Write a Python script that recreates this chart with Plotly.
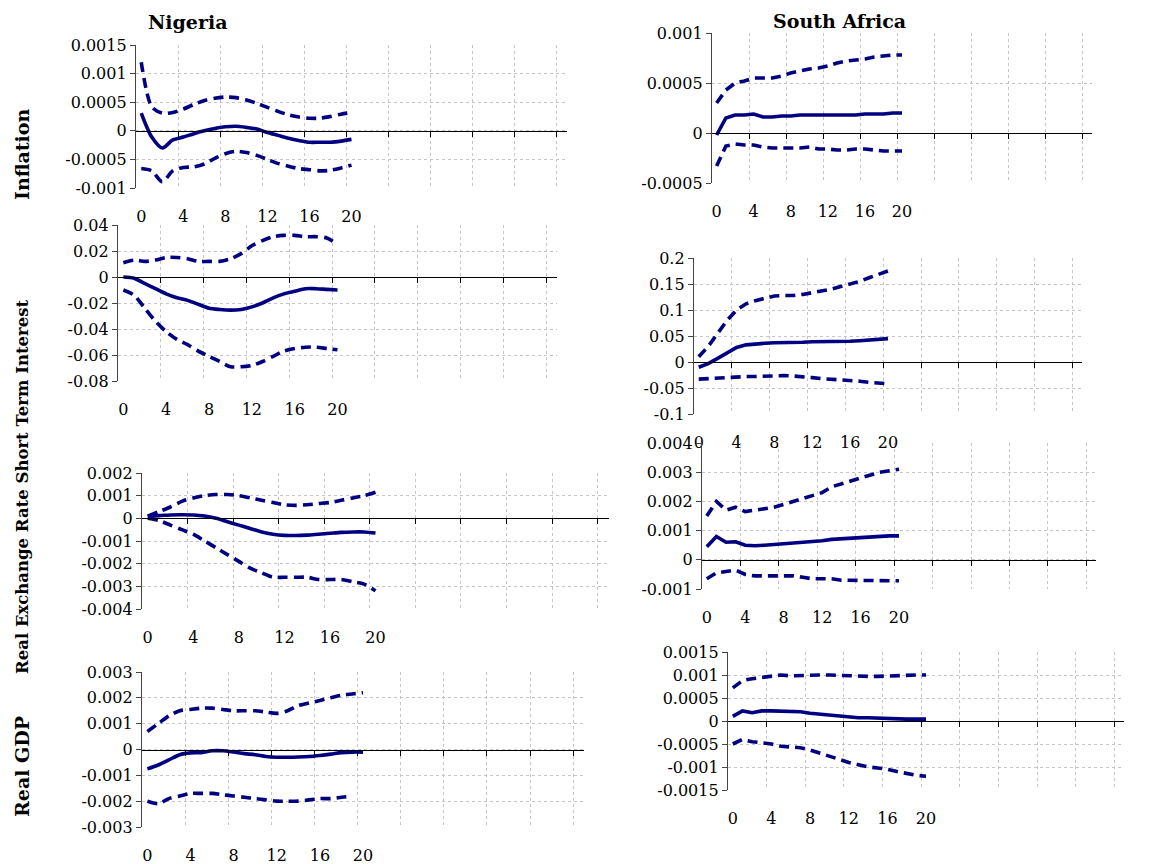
import plotly.graph_objects as go

# ---------------- data ----------------
periods = list(range(21))
x_tick_positions = [0, 4, 8, 12, 16, 20]
x_tick_labels = ["0", "4", "8", "12", "16", "20"]

# Nigeria - Inflation
ng_inf_mid = [0.00031, -0.00011, -0.0003, -0.00016, -0.00011, -0.00005, 0.0, 0.00004, 0.00007, 0.00008,
              0.00006, 0.00003, -0.00003, -0.00008, -0.00013, -0.00017, -0.0002, -0.0002, -0.0002, -0.00018, -0.00015]
ng_inf_up = [0.0012, 0.00042, 0.00031, 0.00032, 0.00038, 0.00046, 0.00053, 0.00057, 0.00059, 0.00058,
             0.00054, 0.00048, 0.00041, 0.00034, 0.00028, 0.00024, 0.00022, 0.00022, 0.00025, 0.00029, 0.00032]
ng_inf_lo = [-0.00066, -0.0007, -0.00089, -0.0007, -0.00064, -0.00063, -0.00058, -0.00048, -0.0004, -0.00036,
             -0.00038, -0.00043, -0.0005, -0.00057, -0.00062, -0.00066, -0.00068, -0.0007, -0.00069, -0.00065, -0.0006]
ng_inf_ticks = [-0.001, -0.0005, 0, 0.0005, 0.001, 0.0015]

# Nigeria - Short Term Interest
ng_int_mid = [0.0, -0.001, -0.005, -0.009, -0.013, -0.016, -0.018, -0.021, -0.024, -0.025,
              -0.0255, -0.025, -0.023, -0.020, -0.016, -0.013, -0.011, -0.009, -0.009, -0.0095, -0.010]
ng_int_up = [0.011, 0.013, 0.012, 0.013, 0.015, 0.015, 0.014, 0.012, 0.012, 0.012,
             0.014, 0.018, 0.024, 0.028, 0.031, 0.032, 0.032, 0.031, 0.031, 0.030, 0.025]
ng_int_lo = [-0.010, -0.014, -0.024, -0.034, -0.042, -0.048, -0.052, -0.057, -0.061, -0.065,
             -0.069, -0.069, -0.068, -0.065, -0.061, -0.057, -0.055, -0.054, -0.054, -0.055, -0.056]
ng_int_ticks = [-0.08, -0.06, -0.04, -0.02, 0, 0.02, 0.04]

# Nigeria - Real Exchange Rate
ng_exr_mid = [0.0001, 0.00012, 0.00015, 0.00016, 0.00015, 0.0001, 0.0, -0.00015, -0.0003, -0.00045,
              -0.0006, -0.0007, -0.00075, -0.00076, -0.00074, -0.0007, -0.00066, -0.00062, -0.0006, -0.0006, -0.00065]
ng_exr_up = [0.0001, 0.0003, 0.0005, 0.00075, 0.0009, 0.001, 0.00105, 0.00105, 0.001, 0.0009,
             0.0008, 0.0007, 0.0006, 0.00057, 0.0006, 0.00065, 0.0007, 0.0008, 0.0009, 0.001, 0.00115]
ng_exr_lo = [0.0, -0.0001, -0.0003, -0.0005, -0.0007, -0.001, -0.0013, -0.0016, -0.0019, -0.0022,
             -0.0024, -0.0026, -0.0026, -0.0026, -0.0026, -0.0027, -0.0027, -0.0027, -0.0028, -0.0029, -0.0032]
ng_exr_ticks = [-0.004, -0.003, -0.002, -0.001, 0, 0.001, 0.002]

# Nigeria - Real GDP
ng_gdp_mid = [-0.00075, -0.0006, -0.0004, -0.0002, -0.00013, -0.00012, -0.00005, -0.00005, -0.0001, -0.00016,
              -0.0002, -0.00027, -0.0003, -0.0003, -0.00029, -0.00027, -0.00023, -0.00018, -0.00012, -0.0001, -0.0001]
ng_gdp_up = [0.0007, 0.001, 0.0013, 0.0015, 0.00155, 0.0016, 0.0016, 0.00155, 0.0015, 0.0015,
             0.0015, 0.00145, 0.0014, 0.0015, 0.0017, 0.0018, 0.0019, 0.002, 0.0021, 0.00215, 0.0022]
ng_gdp_lo = [-0.002, -0.0021, -0.0019, -0.0018, -0.0017, -0.0017, -0.0017, -0.00175, -0.0018, -0.00185,
             -0.0019, -0.00195, -0.002, -0.002, -0.002, -0.00195, -0.0019, -0.0019, -0.00185, -0.0018]
ng_gdp_ticks = [-0.003, -0.002, -0.001, 0, 0.001, 0.002, 0.003]

# South Africa - Inflation
sa_inf_mid = [-0.00002, 0.00015, 0.00018, 0.00018, 0.00019, 0.00016, 0.00016, 0.00017, 0.00017, 0.00018,
              0.00018, 0.00018, 0.00018, 0.00018, 0.00018, 0.00018, 0.00019, 0.00019, 0.00019, 0.0002, 0.0002]
sa_inf_up = [0.0003, 0.00043, 0.0005, 0.00052, 0.00055, 0.00055, 0.00055, 0.00057, 0.0006, 0.00062,
             0.00064, 0.00065, 0.00067, 0.0007, 0.00072, 0.00073, 0.00074, 0.00076, 0.00077, 0.00078, 0.00078]
sa_inf_lo = [-0.00033, -0.00013, -0.00011, -0.00012, -0.00012, -0.00014, -0.00015, -0.00015, -0.00015, -0.00015,
             -0.00014, -0.00016, -0.00016, -0.00017, -0.00017, -0.00016, -0.00016, -0.00017, -0.00018, -0.00018, -0.00018]
sa_inf_ticks = [-0.0005, 0, 0.0005, 0.001]

# South Africa - Short Term Interest
sa_int_mid = [-0.01, -0.003, 0.007, 0.018, 0.028, 0.033, 0.035, 0.036, 0.037, 0.037,
              0.038, 0.038, 0.039, 0.039, 0.039, 0.040, 0.040, 0.041, 0.042, 0.044, 0.045]
sa_int_up = [0.01, 0.03, 0.055, 0.08, 0.1, 0.112, 0.118, 0.123, 0.127, 0.128,
             0.128, 0.13, 0.133, 0.137, 0.14, 0.145, 0.15, 0.155, 0.162, 0.168, 0.175]
sa_int_lo = [-0.033, -0.032, -0.031, -0.029, -0.028, -0.028, -0.028, -0.027, -0.026, -0.026,
             -0.027, -0.028, -0.03, -0.032, -0.033, -0.034, -0.035, -0.037, -0.039, -0.041, -0.042]
sa_int_ticks = [-0.1, -0.05, 0, 0.05, 0.1, 0.15, 0.2]

# South Africa - Real Exchange Rate
sa_exr_mid = [0.00045, 0.0008, 0.0006, 0.00062, 0.0005, 0.00048, 0.0005, 0.00052, 0.00054, 0.00056,
              0.0006, 0.0006, 0.00065, 0.0007, 0.00072, 0.00075, 0.00078, 0.0008, 0.00082, 0.00082, 0.00082]
sa_exr_up = [0.0015, 0.002, 0.0017, 0.0018, 0.00165, 0.0017, 0.00175, 0.0018, 0.0019, 0.002,
             0.0021, 0.0022, 0.0023, 0.0025, 0.0026, 0.0027, 0.0028, 0.0029, 0.003, 0.00305, 0.0031]
sa_exr_lo = [-0.00065, -0.00045, -0.0004, -0.00035, -0.0005, -0.00055, -0.00055, -0.00055, -0.00055, -0.00055,
             -0.0006, -0.00065, -0.00065, -0.00065, -0.0007, -0.0007, -0.0007, -0.00072, -0.00072, -0.00072, -0.00072]
sa_exr_ticks = [-0.001, 0, 0.001, 0.002, 0.003, 0.004]

# South Africa - Real GDP
sa_gdp_mid = [0.0001, 0.00022, 0.00018, 0.00022, 0.00022, 0.00021, 0.0002, 0.0002, 0.00017, 0.00015,
              0.00013, 0.0001, 0.00008, 0.00007, 0.00007, 0.00006, 0.00005, 0.00005, 0.00004, 0.00004, 0.00004]
sa_gdp_up = [0.00072, 0.00088, 0.00092, 0.00095, 0.00098, 0.001, 0.00098, 0.00099, 0.001, 0.001,
             0.001, 0.00099, 0.00098, 0.00097, 0.00097, 0.00097, 0.00098, 0.00099, 0.00099, 0.001, 0.001]
sa_gdp_lo = [-0.0005, -0.0004, -0.00045, -0.00048, -0.0005, -0.00055, -0.00057, -0.00058, -0.00063, -0.0007,
             -0.00078, -0.00085, -0.0009, -0.00095, -0.001, -0.00102, -0.00105, -0.0011, -0.00115, -0.00118, -0.0012]
sa_gdp_ticks = [-0.0015, -0.001, -0.0005, 0, 0.0005, 0.001, 0.0015]

column_titles = ["Nigeria", "South Africa"]
row_titles = ["Inflation", "Real Exchange Rate Short Term Interest", "Real GDP"]

# ---------------- layout geometry (pixels) ----------------
W, H = 1161, 864
FONT = "DejaVu Serif"
NAVY = "#000080"
GRID = "#c4c4c4"

panels = [
    # (mid, up, lo, ticks, left, right, top, bottom, smooth)
    (ng_inf_mid, ng_inf_up, ng_inf_lo, ng_inf_ticks, 136, 567, 45, 188, True),
    (ng_int_mid, ng_int_up, ng_int_lo, ng_int_ticks, 118, 557, 225, 381, True),
    (ng_exr_mid, ng_exr_up, ng_exr_lo, ng_exr_ticks, 142, 609, 473, 609, True),
    (ng_gdp_mid, ng_gdp_up, ng_gdp_lo, ng_gdp_ticks, 142, 584, 672, 827, True),
    (sa_inf_mid, sa_inf_up, sa_inf_lo, sa_inf_ticks, 712, 1092, 33, 183, False),
    (sa_int_mid, sa_int_up, sa_int_lo, sa_int_ticks, 694, 1082, 258, 414, False),
    (sa_exr_mid, sa_exr_up, sa_exr_lo, sa_exr_ticks, 702, 1096, 443, 589, False),
    (sa_gdp_mid, sa_gdp_up, sa_gdp_lo, sa_gdp_ticks, 728, 1124, 652, 790, False),
]

x_range = [-0.5, 40.5]
grid_x = [3.5 + 4 * k for k in range(10)]

fig = go.Figure()
layout = {}
n = len(panels)
for i, (mid, up, lo, ticks, left, right, top, bottom, smooth) in enumerate(panels):
    k = i + 1
    kz = i + 1 + n
    xa, ya, xz = f"xaxis{k}", f"yaxis{k}", f"xaxis{kz}"
    xd = [left / W, right / W]
    yd = [1 - bottom / H, 1 - top / H]
    ymin, ymax = min(ticks), max(ticks)
    zero_pos = yd[0] + (0 - ymin) / (ymax - ymin) * (yd[1] - yd[0])

    layout[xa] = dict(domain=xd, anchor=f"y{k}", range=x_range, showline=False, zeroline=False,
                      tickmode="array", tickvals=x_tick_positions, ticktext=x_tick_labels,
                      ticks="", showgrid=False, ticklabelstandoff=17, automargin=False,
                      tickfont=dict(family=FONT, size=16, color="black"),
                      minor=dict(tickmode="array", tickvals=grid_x, showgrid=True,
                                 gridcolor=GRID, griddash="dot", gridwidth=1, ticks=""))
    layout[xz] = dict(overlaying=f"x{k}", anchor="free", position=zero_pos, range=x_range,
                      showline=True, linecolor="black", linewidth=1.3, zeroline=False,
                      showgrid=False, showticklabels=False, tickmode="array", tickvals=grid_x,
                      ticks="outside", ticklen=5, tickwidth=1.3, tickcolor="black", automargin=False)
    layout[ya] = dict(domain=yd, anchor=f"x{k}", range=[ymin, ymax], tickmode="array",
                      tickvals=ticks, ticktext=[f"{v:g}" for v in ticks],
                      showline=True, linecolor="#444", linewidth=1.3, ticks="outside",
                      ticklen=5, tickcolor="#444", zeroline=False, showgrid=True,
                      gridcolor=GRID, griddash="dot", gridwidth=1, automargin=False,
                      tickfont=dict(family=FONT, size=16, color="black"))

    shape = "spline" if smooth else "linear"
    for series, dash, xref in ((up, "10px,6px", f"x{kz}"), (lo, "10px,6px", f"x{k}"), (mid, "solid", f"x{k}")):
        fig.add_trace(go.Scatter(
            x=periods[:len(series)], y=series, mode="lines", xaxis=xref, yaxis=f"y{k}",
            line=dict(color=NAVY, width=3.6, dash=dash, shape=shape, smoothing=0.8),
            hoverinfo="skip", showlegend=False))

annotations = [
    dict(text="<b>" + column_titles[0] + "</b>", x=188 / W, y=1 - 22 / H),
    dict(text="<b>" + column_titles[1] + "</b>", x=839 / W, y=1 - 21 / H),
]
for a in annotations:
    a.update(xref="paper", yref="paper", xanchor="center", yanchor="middle", showarrow=False,
             font=dict(family=FONT, size=19, color="black"))

row_pos = [155, 487, 767]
row_sizes = [19, 16.5, 19]
for txt, yc, fs in zip(row_titles, row_pos, row_sizes):
    annotations.append(dict(text="<b>" + txt + "</b>", x=22 / W, y=1 - yc / H, xref="paper", yref="paper",
                            xanchor="center", yanchor="middle", textangle=-90, showarrow=False,
                            font=dict(family=FONT, size=fs, color="black")))

fig.update_layout(width=W, height=H, margin=dict(l=0, r=0, t=0, b=0, pad=0, autoexpand=False),
                  autosize=False, paper_bgcolor="white", plot_bgcolor="white", showlegend=False,
                  hovermode=False, annotations=annotations, **layout)

# remove the default page margin so the figure sits at the window's top-left corner
fig.write_html("out.html", config={"displayModeBar": False},
               post_script="document.body.style.margin='0';document.body.style.overflow='hidden';")
